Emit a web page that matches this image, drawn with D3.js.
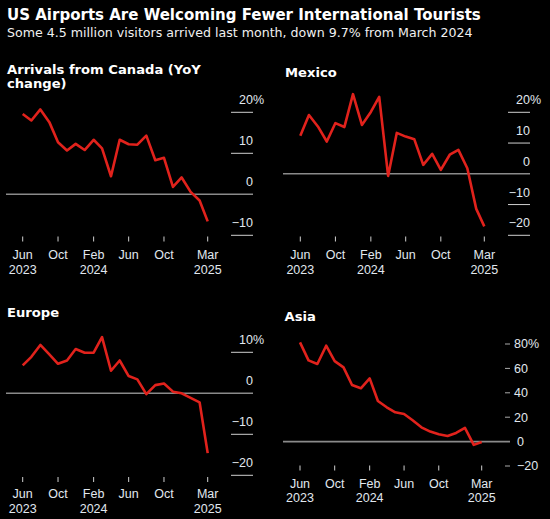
<!DOCTYPE html>
<html>
<head>
<meta charset="utf-8">
<script src="https://cdn.jsdelivr.net/npm/d3@7"></script>
<style>
  body { margin: 0; background: #000; }
  text { font-family: "Liberation Sans", Arial, sans-serif; }
  text.head { font-family: "DejaVu Sans", Verdana, sans-serif; }
</style>
</head>
<body>
<div id="chart"></div>
<script>
const w = 550;
const h = 519;

const months = [
  "2023-06", "2023-07", "2023-08", "2023-09", "2023-10", "2023-11", "2023-12",
  "2024-01", "2024-02", "2024-03", "2024-04", "2024-05", "2024-06", "2024-07",
  "2024-08", "2024-09", "2024-10", "2024-11", "2024-12", "2025-01", "2025-02", "2025-03"
];
const canada = [19.6, 18.0, 20.7, 17.6, 12.7, 10.7, 12.3, 10.8, 13.3, 11.2, 4.4,
  13.3, 12.2, 12.1, 14.3, 8.3, 8.9, 1.8, 4.1, 0.6, -1.5, -6.6];
const mexico = [12.4, 19.1, 15.4, 10.5, 16.5, 15.2, 25.9, 15.9, 20.1, 25.0, -0.7,
  13.3, 12.1, 11.2, 2.9, 6.5, 1.3, 6.2, 7.8, 1.8, -11.4, -17.1];
const europe = [6.8, 8.9, 11.8, 9.5, 7.2, 8.0, 10.8, 9.9, 9.9, 13.7, 5.5,
  8.0, 4.2, 3.4, -0.2, 2.0, 2.4, 0.4, 0.0, -1.1, -2.2, -14.6];
const asia = [81.3, 66.6, 63.6, 78.6, 66.0, 60.8, 46.4, 43.7, 51.8, 33.3, 28.1,
  24.0, 22.6, 17.5, 11.7, 8.2, 6.0, 4.6, 7.1, 11.2, -2.7, -0.3];

const tickMonths = ["2023-06", "2023-10", "2024-02", "2024-06", "2024-10", "2025-03"];
const tickLabels = [["Jun", "2023"], ["Oct"], ["Feb", "2024"], ["Jun"], ["Oct"], ["Mar", "2025"]];

const canadaTicks = [-10, 0, 10, 20];
const mexicoTicks = [-20, -10, 0, 10, 20];
const europeTicks = [-20, -10, 0, 10];
const asiaTicks = [-20, 0, 20, 40, 60, 80];

const parseMonth = d3.utcParse("%Y-%m");
const dates = months.map(parseMonth);
const tickDates = tickMonths.map(parseMonth);
const fmt = d3.format("d");

const svg = d3
  .select("#chart")
  .append("svg")
  .attr("width", w)
  .attr("height", h)
  .style("background", "#000");

// scale font so the text spans the same width as in the original
const fitWidth = (sel, size, width) => {
  const len = sel.node().getComputedTextLength();
  const s = (size * width) / len;
  sel.attr("font-size", s);
  return s;
};

const title = svg
  .append("text")
  .attr("class", "head")
  .attr("x", 7)
  .attr("y", 20)
  .attr("fill", "#fff")
  .attr("font-size", 16)
  .attr("font-weight", "bold")
  .text("US Airports Are Welcoming Fewer International Tourists");
fitWidth(title, 16, 474);

const sub = svg
  .append("text")
  .attr("class", "head")
  .attr("x", 7)
  .attr("y", 37)
  .attr("fill", "#f0f0f0")
  .attr("font-size", 12.5)
  .text("Some 4.5 million visitors arrived last month, down 9.7% from March 2024");
fitWidth(sub, 12.5, 466);

let panelFont = 12.5;

const drawPanel = (p) => {
  const g = svg.append("g");

  const x = d3.scaleUtc().domain([dates[0], dates[dates.length - 1]]).range(p.xRange);
  const y = d3.scaleLinear().domain(p.yDomain).range(p.yRange);

  // title
  const t = g.selectAll("text.title")
    .data(p.title)
    .enter()
    .append("text")
    .attr("class", "title head")
    .attr("x", p.titleX)
    .attr("y", (d, i) => p.titleY + i * 14)
    .attr("fill", "#fff")
    .attr("font-size", panelFont)
    .attr("font-weight", "bold")
    .text((d) => d);
  if (p.fit) {
    panelFont = fitWidth(t.filter((d, i) => i === 0), panelFont, p.fit);
    t.attr("font-size", panelFont);
  }

  // zero line
  g.append("line")
    .attr("x1", p.left)
    .attr("x2", p.right)
    .attr("y1", y(0))
    .attr("y2", y(0))
    .attr("stroke", "#8a8a8a")
    .attr("stroke-width", 1.6);

  const top = d3.max(p.ticks);

  if (p.style === "right") {
    g.selectAll("line.grid")
      .data(p.ticks.filter((d) => d !== 0))
      .enter()
      .append("line")
      .attr("x1", p.right - 22)
      .attr("x2", p.right)
      .attr("y1", (d) => y(d))
      .attr("y2", (d) => y(d))
      .attr("stroke", "#cfcfcf")
      .attr("stroke-width", 1);

    g.selectAll("text.ylab")
      .data(p.ticks)
      .enter()
      .append("text")
      .attr("class", "ylab")
      .attr("x", p.right)
      .attr("y", (d) => y(d) - 8)
      .attr("text-anchor", "end")
      .attr("fill", "#e1e8ef")
      .attr("font-size", 12.5)
      .text((d) => fmt(d));

    g.append("text")
      .attr("x", p.right)
      .attr("y", y(top) - 8)
      .attr("fill", "#e1e8ef")
      .attr("font-size", 12.5)
      .text("%");
  } else {
    g.selectAll("line.grid")
      .data(p.ticks.filter((d) => d !== 0))
      .enter()
      .append("line")
      .attr("x1", p.right - 5)
      .attr("x2", p.right)
      .attr("y1", (d) => y(d))
      .attr("y2", (d) => y(d))
      .attr("stroke", "#aaa")
      .attr("stroke-width", 1);

    g.selectAll("text.ylab")
      .data(p.ticks)
      .enter()
      .append("text")
      .attr("class", "ylab")
      .attr("x", (d) => (d > 0 ? p.right + 4 : p.right + 7))
      .attr("y", (d) => y(d))
      .attr("dy", "0.35em")
      .attr("fill", "#e1e8ef")
      .attr("font-size", 12.5)
      .text((d) => fmt(d) + (d === top ? "%" : ""));
  }

  // x ticks
  g.selectAll("line.xtick")
    .data(tickDates)
    .enter()
    .append("line")
    .attr("x1", (d) => x(d))
    .attr("x2", (d) => x(d))
    .attr("y1", p.xTickY)
    .attr("y2", p.xTickY + 5)
    .attr("stroke", "#cfcfcf")
    .attr("stroke-width", 1);

  const xl = g.selectAll("text.xlab")
    .data(tickDates)
    .enter()
    .append("text")
    .attr("class", "xlab")
    .attr("text-anchor", "middle")
    .attr("fill", "#e1e8ef")
    .attr("font-size", 12.5);

  xl.selectAll("tspan")
    .data((d, i) => tickLabels[i].map((s) => ({ s: s, d: d })))
    .enter()
    .append("tspan")
    .attr("x", (o) => x(o.d))
    .attr("y", (o, j) => p.xLabelY + j * 14.5)
    .text((o) => o.s);

  // series line
  const line = d3
    .line()
    .x((d, i) => x(dates[i]))
    .y((d) => y(d));

  g.append("path")
    .datum(p.values)
    .attr("d", line)
    .attr("fill", "none")
    .attr("stroke", "#e1221c")
    .attr("stroke-width", 2.6)
    .attr("stroke-linejoin", "round");
};

drawPanel({
  title: ["Arrivals from Canada (YoY", "change)"], fit: 194,
  titleX: 7, titleY: 74,
  values: canada, ticks: canadaTicks,
  xRange: [22.7, 207.7], yDomain: [-10, 20], yRange: [235.3, 112.3],
  left: 6, right: 253, style: "right",
  xTickY: 236.5, xLabelY: 259
});

drawPanel({
  title: ["Mexico"],
  titleX: 285, titleY: 76.5,
  values: mexico, ticks: mexicoTicks,
  xRange: [300.3, 484.3], yDomain: [-20, 20], yRange: [235.3, 112.3],
  left: 283, right: 530, style: "right",
  xTickY: 236.5, xLabelY: 259
});

drawPanel({
  title: ["Europe"],
  titleX: 7, titleY: 316.5,
  values: europe, ticks: europeTicks,
  xRange: [22.7, 207.7], yDomain: [-20, 10], yRange: [475.3, 352.3],
  left: 6, right: 253, style: "right",
  xTickY: 477, xLabelY: 498
});

drawPanel({
  title: ["Asia"],
  titleX: 284.5, titleY: 320.5,
  values: asia, ticks: asiaTicks,
  xRange: [300, 481.7], yDomain: [-20, 80], yRange: [466, 344],
  left: 283, right: 510, style: "dash",
  xTickY: 465.5, xLabelY: 487.7
});
</script>
</body>
</html>
